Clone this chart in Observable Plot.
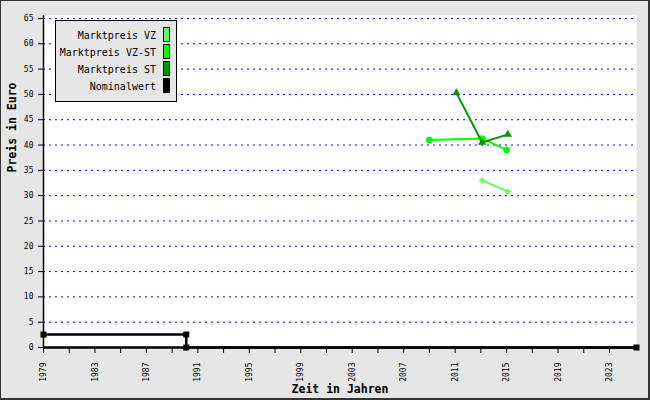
<!DOCTYPE html>
<html><head><meta charset="utf-8">
<script src="https://cdn.jsdelivr.net/npm/d3@7"></script>
<script src="https://cdn.jsdelivr.net/npm/@observablehq/plot@0.6"></script>
<style>
html,body{margin:0;padding:0;background:#e6e6e6;}
#wrap{position:relative;width:650px;height:400px;background:#e6e6e6;overflow:hidden;}
#wrap svg{display:block;}
#border{position:absolute;left:0;top:0;width:650px;height:400px;box-sizing:border-box;border:1px solid #333;border-right-width:2px;border-bottom-width:2px;pointer-events:none;}
#legend{position:absolute;left:55px;top:20px;width:122px;height:82px;box-sizing:border-box;border:1px solid #000;background:#e6e6e6;font-family:"DejaVu Sans Mono",monospace;font-size:10px;color:#000;}
.row{position:absolute;left:0;width:120px;height:15px;}
.row span.t{position:absolute;right:20px;top:2px;line-height:13px;white-space:nowrap;}
.row span.s{position:absolute;left:107px;top:0;width:7px;height:15px;box-sizing:border-box;border:1px solid #000;}
</style>
</head><body>
<div id="wrap"></div>
<script>
// ---- data ----
const seriesNames = ["Marktpreis VZ", "Marktpreis VZ-ST", "Marktpreis ST", "Nominalwert"];
const seriesColors = ["#66ff66", "#00ff00", "#009900", "#000000"];

const vzYears = [2013.1, 2015.1];
const vzValues = [33.0, 30.8];

const vzstYears = [2009.0, 2013.1, 2015.0];
const vzstValues = [41.0, 41.3, 39.0];

const stYears = [2011.1, 2013.1, 2015.1];
const stValues = [50.3, 40.5, 42.1];

const nomYears = [1979, 1990.1, 1990.1, 2025.1];
const nomValues = [2.56, 2.56, 0, 0];

const yTicks = [0, 5, 10, 15, 20, 25, 30, 35, 40, 45, 50, 55, 60, 65];
const gridValues = [5, 10, 15, 20, 25, 30, 35, 40, 45, 50, 55, 60, 65];
const xTicks = [1979, 1981, 1983, 1985, 1987, 1989, 1991, 1993, 1995, 1997, 1999, 2001, 2003, 2005, 2007, 2009, 2011, 2013, 2015, 2017, 2019, 2021, 2023];
const xTickLabels = [1979, 1983, 1987, 1991, 1995, 1999, 2003, 2007, 2011, 2015, 2019, 2023];

const xTitle = "Zeit in Jahren";
const yTitle = "Preis in Euro";

// ---- build ----
const toRows = (xs, ys) => xs.map((x, i) => ({x, y: ys[i]}));
const vz = toRows(vzYears, vzValues);
const vzst = toRows(vzstYears, vzstValues);
const st = toRows(stYears, stValues);
const nom = toRows(nomYears, nomValues);

const font = "DejaVu Sans Mono, monospace";

const chart = Plot.plot({
  width: 650,
  height: 400,
  marginLeft: 43,
  marginRight: 14,
  marginTop: 15,
  marginBottom: 53,
  style: {background: "transparent", fontFamily: font},
  x: {domain: [1979, 2025.1]},
  y: {domain: [0, 65], insetTop: 3},
  marks: [
    Plot.frame({fill: "white", stroke: null}),
    Plot.ruleY(gridValues, {stroke: "#0000ff", strokeWidth: 1, strokeDasharray: "2,4"}),
    Plot.axisY(yTicks, {tickSize: 5, tickPadding: 5, fontSize: 8, fontFamily: font, label: null, stroke: "black", fill: "black"}),
    Plot.axisX(xTicks, {tickSize: 6, tickPadding: 9, tickRotate: -90, fontSize: 8, fontFamily: font, label: null,
      tickFormat: d => xTickLabels.includes(d) ? String(d) : "", stroke: "black", fill: "black"}),
    Plot.ruleX([1979], {stroke: "black", strokeWidth: 1.5}),
    Plot.ruleY([0], {stroke: "black", strokeWidth: 2.5}),
    Plot.line(nom, {x: "x", y: "y", stroke: seriesColors[3], strokeWidth: 2.5, curve: "linear"}),
    Plot.dot(nom, {x: "x", y: "y", symbol: "square", r: 3.4, fill: seriesColors[3], stroke: null}),
    Plot.line(vz, {x: "x", y: "y", stroke: seriesColors[0], strokeWidth: 2}),
    Plot.dot(vz, {x: "x", y: "y", symbol: "diamond2", r: 3, fill: seriesColors[0], stroke: null}),
    Plot.line(vzst, {x: "x", y: "y", stroke: seriesColors[1], strokeWidth: 2}),
    Plot.dot(vzst, {x: "x", y: "y", symbol: "circle", r: 3.3, fill: seriesColors[1], stroke: null}),
    Plot.line(st, {x: "x", y: "y", stroke: seriesColors[2], strokeWidth: 2}),
    Plot.dot(st, {x: "x", y: "y", symbol: "triangle", r: 3, fill: seriesColors[2], stroke: null}),
    Plot.text([xTitle], {frameAnchor: "bottom", dy: 42, fontSize: 11.5, fontWeight: "bold", fontFamily: font, fill: "black", lineAnchor: "middle"}),
    Plot.text([yTitle], {frameAnchor: "left", dx: -31, dy: -9, rotate: -90, fontSize: 11.5, fontWeight: "bold", fontFamily: font, fill: "black", lineAnchor: "middle"})
  ]
});

const wrap = document.getElementById("wrap");
wrap.appendChild(chart);

// legend
const legend = document.createElement("div");
legend.id = "legend";
seriesNames.forEach((name, i) => {
  const row = document.createElement("div");
  row.className = "row";
  row.style.top = (6 + i * 17) + "px";
  const t = document.createElement("span");
  t.className = "t";
  t.textContent = name;
  const s = document.createElement("span");
  s.className = "s";
  s.style.background = seriesColors[i];
  row.appendChild(t);
  row.appendChild(s);
  legend.appendChild(row);
});
wrap.appendChild(legend);

const border = document.createElement("div");
border.id = "border";
wrap.appendChild(border);
</script>
</body></html>
